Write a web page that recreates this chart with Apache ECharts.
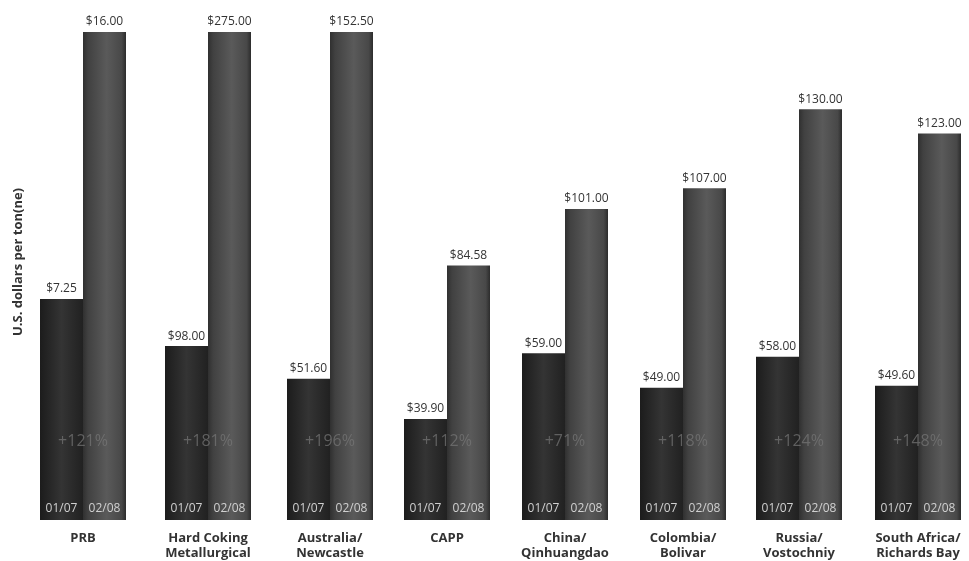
<!DOCTYPE html>
<html>
<head>
<meta charset="utf-8">
<script src="https://cdn.jsdelivr.net/npm/echarts@6/dist/echarts.min.js"></script>
<style>
html,body{margin:0;padding:0;background:#fff;}
#main{width:969px;height:561px;}
</style>
</head>
<body>
<div id="main"></div>
<script>
// ---- data ----
const categories = ['PRB', 'Hard Coking\nMetallurgical', 'Australia/\nNewcastle', 'CAPP',
  'China/\nQinhuangdao', 'Colombia/\nBolivar', 'Russia/\nVostochniy', 'South Africa/\nRichards Bay'];
const prices0107 = [7.25, 98.00, 51.60, 39.90, 59.00, 49.00, 58.00, 49.60];
const prices0208 = [16.00, 275.00, 152.50, 84.58, 101.00, 107.00, 130.00, 123.00];
const periodNames = ['01/07', '02/08'];
const yAxisTitle = 'U.S. dollars per ton(ne)';

// value scales (the original chart uses broken scales) and which scale each category uses
const scales = [{ min: 0, max: 16 }, { min: 0, max: 275 }, { min: 10.5, max: 152.5 }];
const scaleOfCategory = [0, 1, 2, 2, 2, 2, 2, 2];

// layout: one small panel per category, centred here (pixels)
const panelCenters = [83, 208, 330, 447, 565, 683, 799, 918];
const PANEL_W = 100;

const FONT = "'Open Sans', 'Noto Sans', sans-serif";
const BAR_W = 43;

const darkFill = new echarts.graphic.LinearGradient(0, 0, 1, 0, [
  { offset: 0, color: '#1c1c1c' }, { offset: 0.5, color: '#343434' }, { offset: 1, color: '#212121' }
]);
const lightFill = new echarts.graphic.LinearGradient(0, 0, 1, 0, [
  { offset: 0, color: '#303030' }, { offset: 0.12, color: '#414141' }, { offset: 0.55, color: '#5a5a5a' },
  { offset: 0.9, color: '#484848' }, { offset: 1, color: '#2c2c2c' }
]);

const grids = [], xAxes = [], yAxes = [], series = [];
categories.forEach((cat, g) => {
  const sc = scales[scaleOfCategory[g]];
  grids.push({ left: panelCenters[g] - PANEL_W / 2, width: PANEL_W, top: 32, bottom: 41 });
  xAxes.push({
    type: 'category', gridIndex: g, data: [cat],
    axisLine: { show: false }, axisTick: { show: false },
    axisLabel: { color: '#333', fontFamily: FONT, fontWeight: 'bold', fontSize: 13, lineHeight: 15, margin: 11, interval: 0 }
  });
  yAxes.push({
    type: 'value', gridIndex: g, min: sc.min, max: sc.max,
    axisLine: { show: false }, axisTick: { show: false }, axisLabel: { show: false }, splitLine: { show: false }
  });
  const valLabel = {
    show: true, position: 'top', distance: 2, color: '#333', fontFamily: FONT, fontSize: 12,
    backgroundColor: '#fff', padding: [1, 2, 2, 2],
    formatter: (d) => '$' + d.value.toFixed(2)
  };
  series.push({
    name: periodNames[0], type: 'bar', xAxisIndex: g, yAxisIndex: g, barWidth: BAR_W, barGap: '0%',
    data: [prices0107[g]], itemStyle: { color: darkFill }, label: valLabel, z: 2
  });
  series.push({
    name: periodNames[1], type: 'bar', xAxisIndex: g, yAxisIndex: g, barWidth: BAR_W, barGap: '0%',
    data: [prices0208[g]], itemStyle: { color: lightFill }, label: valLabel, z: 3
  });
  // in-bar annotations: period names and percent change
  series.push({
    type: 'custom', xAxisIndex: g, yAxisIndex: g, z: 5, silent: true,
    data: [[0, sc.min, Math.round((prices0208[g] / prices0107[g] - 1) * 100)]],
    encode: { x: 0, y: 1 },
    renderItem: (params, api) => {
      const base = api.coord([api.value(0), api.value(1)]);
      const cx = base[0], by = base[1];
      const half = BAR_W / 2;
      return {
        type: 'group',
        children: [
          { type: 'text', style: { text: periodNames[0], x: cx - half, y: by - 11, align: 'center', verticalAlign: 'middle',
              fill: '#d0d0d0', font: "12px " + FONT } },
          { type: 'text', style: { text: periodNames[1], x: cx + half, y: by - 11, align: 'center', verticalAlign: 'middle',
              fill: '#d0d0d0', font: "12px " + FONT } },
          { type: 'text', style: { text: '+' + api.value(2) + '%', x: cx, y: by - 79, align: 'center', verticalAlign: 'middle',
              fill: 'rgba(120,120,120,0.7)', font: "16px " + FONT } }
        ]
      };
    }
  });
});

const chart = echarts.init(document.getElementById('main'));
chart.setOption({
  backgroundColor: '#fff',
  animation: false,
  grid: grids, xAxis: xAxes, yAxis: yAxes, series: series,
  graphic: [{
    type: 'text', x: 18, y: 262, rotation: Math.PI / 2,
    style: { text: yAxisTitle, align: 'center', verticalAlign: 'middle', fill: '#333',
      font: "bold 13px " + FONT }
  }]
});
</script>
</body>
</html>
